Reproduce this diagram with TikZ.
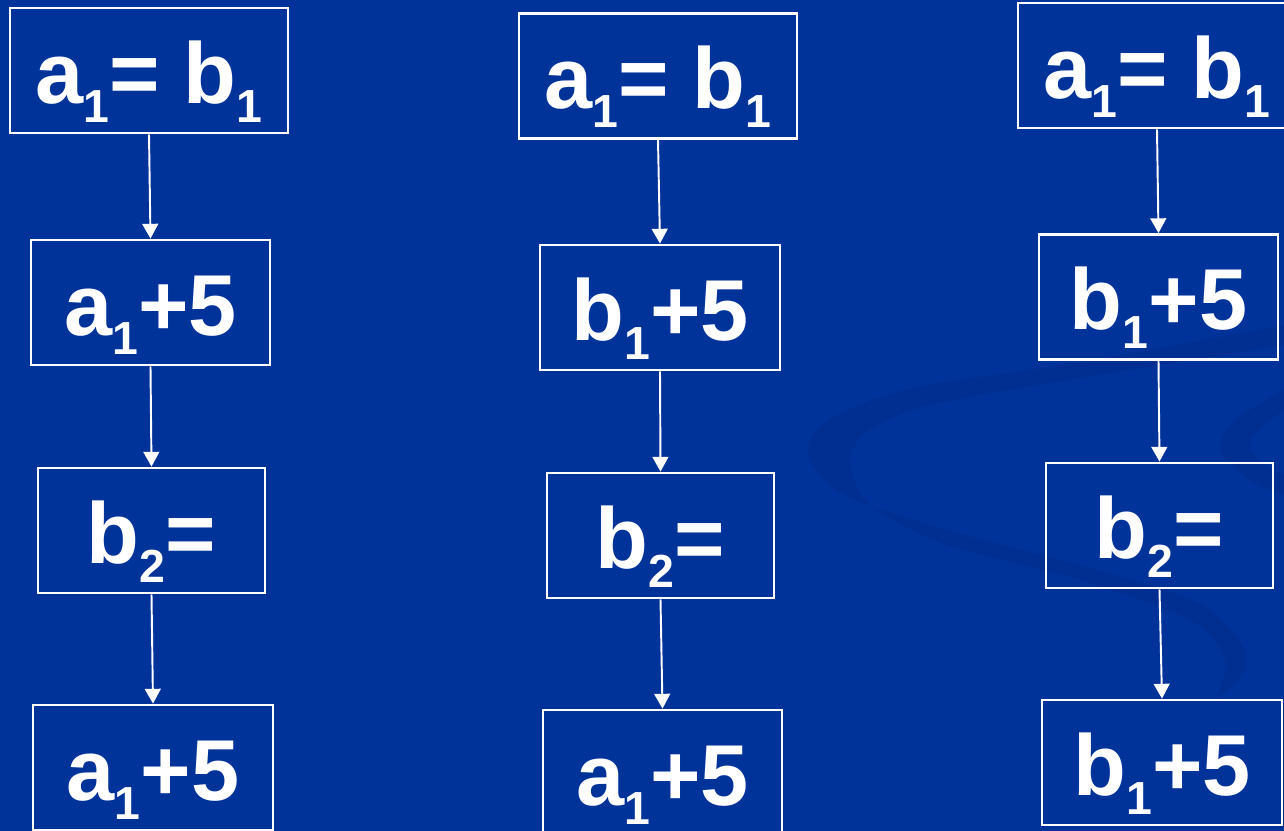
\documentclass[tikz,border=0pt]{standalone}
\usepackage{fontspec}
\setmainfont{Liberation Sans}
\usetikzlibrary{arrows.meta}

% lowered index digit
\newcommand{\idx}[1]{\raisebox{-5.4pt}{\fontsize{13.2}{13}\selectfont #1}}

\definecolor{slide}{RGB}{0,51,153}
\definecolor{swoosh}{RGB}{0,38,128}

\begin{document}
\begin{tikzpicture}[
    box/.style={draw=white, line width=0.8pt, rectangle, minimum height=1.25cm,
                text=white, font=\fontsize{24.6}{28}\selectfont\bfseries,
                text height=0.78cm, text depth=0.12cm, inner sep=0pt},
    flow/.style={-{Triangle[width=4.5pt,length=4.2pt]}, white, line width=0.55pt}]
    \clip (0,0) rectangle (12.84,8.31);
    \fill[slide] (0,0) rectangle (12.84,8.31);
    % background swoosh
    \fill[swoosh, opacity=0.3] plot[smooth] coordinates {(12.84,5.06) (10.80,4.69) (9.13,4.43) (8.28,4.11) (8.08,3.76) (8.45,3.36) (9.47,3.01) (10.80,2.66) (11.97,2.29) (12.40,1.91) (12.45,1.61) (12.15,1.31)}
        -- plot[smooth] coordinates {(12.15,1.31) (12.25,1.71) (11.90,2.11) (10.80,2.51) (9.47,2.86) (8.70,3.26) (8.50,3.71) (8.70,4.01) (9.30,4.26) (10.80,4.53) (12.84,4.86)} -- cycle;
    \fill[swoosh, opacity=0.3] plot[smooth] coordinates {(12.84,4.41) (12.35,4.11) (12.20,3.81) (12.50,3.51) (12.84,3.36)}
        -- (12.84,3.56) -- plot[smooth] coordinates {(12.84,3.56) (12.60,3.70) (12.50,3.91) (12.84,4.21)} -- cycle;

    % first column
    \node[box, minimum width=2.78cm] (a1) at (1.49,7.605) {a\idx{1}= b\idx{1}};
    \node[box, minimum width=2.39cm] (a2) at (1.505,5.285) {a\idx{1}+5};
    \node[box, minimum width=2.27cm] (a3) at (1.515,3.005) {b\idx{2}=};
    \node[box, minimum width=2.40cm] (a4) at (1.53,0.635) {a\idx{1}+5};
    % second column
    \node[box, minimum width=2.78cm] (b1) at (6.58,7.55) {a\idx{1}= b\idx{1}};
    \node[box, minimum width=2.40cm] (b2) at (6.60,5.235) {b\idx{1}+5};
    \node[box, minimum width=2.27cm] (b3) at (6.605,2.955) {b\idx{2}=};
    \node[box, minimum width=2.39cm] (b4) at (6.625,0.585) {a\idx{1}+5};
    % third column
    \node[box, minimum width=2.78cm] (c1) at (11.57,7.655) {a\idx{1}= b\idx{1}};
    \node[box, minimum width=2.39cm] (c2) at (11.585,5.34) {b\idx{1}+5};
    \node[box, minimum width=2.27cm] (c3) at (11.595,3.055) {b\idx{2}=};
    \node[box, minimum width=2.40cm] (c4) at (11.62,0.685) {b\idx{1}+5};

    \foreach \col in {a,b,c}{
        \draw[flow] (\col1.south) -- (\col2.north);
        \draw[flow] (\col2.south) -- (\col3.north);
        \draw[flow] (\col3.south) -- (\col4.north);
    }
\end{tikzpicture}
\end{document}
